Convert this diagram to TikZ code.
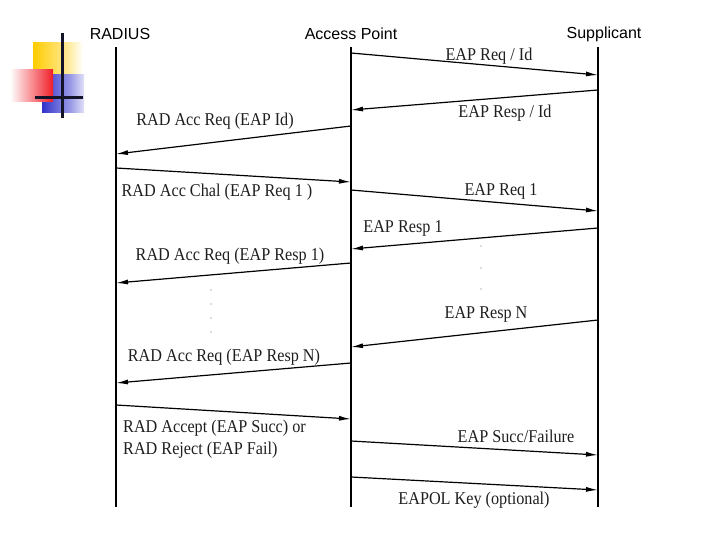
\documentclass[tikz,border=0pt]{standalone}
\usepackage{fontspec}
\setmainfont{Liberation Serif}
\newfontfamily\lblfont[FakeStretch=0.9]{Liberation Serif}
\newfontfamily\hdrfont{Liberation Sans}
\usetikzlibrary{arrows.meta}
\definecolor{logoyellow}{RGB}{255,204,0}
\definecolor{logoblue}{RGB}{51,51,204}
\definecolor{logored}{RGB}{240,30,40}
\definecolor{logoline}{RGB}{20,20,40}
\definecolor{txt}{RGB}{30,30,30}
\tikzset{
  hdr/.style={font=\hdrfont\fontsize{16}{18}\selectfont, inner sep=0pt, anchor=center},
  lbl/.style={font=\lblfont\fontsize{18}{22}\selectfont, text=txt, inner sep=0pt, anchor=center},
  life/.style={line width=2pt},
  msg/.style={line width=1.2pt, -{Latex[length=12pt,width=5pt]}},
  dotmark/.style={fill=black!60, circle, inner sep=0pt, minimum size=1.4pt}
}
\begin{document}
\begin{tikzpicture}[x=1pt,y=-1pt]
\useasboundingbox (0,0) rectangle (720,540);
% logo
\shade[left color=logoyellow, right color=logoyellow!40] (33,43) rectangle (68,75);
\shade[left color=logoyellow!40, right color=white] (68,43) rectangle (83,75);
\shade[left color=logoblue, right color=logoblue!50] (42,75) rectangle (70,113);
\shade[left color=logoblue!50, right color=logoblue!15] (70,75) rectangle (84,113);
\shade[left color=white, right color=logored] (10,70) rectangle (53,102);
\draw[logoline, line width=3pt] (62,33) -- (62,118);
\draw[logoline, line width=3pt] (35,98) -- (83,98);
% headers
\node[hdr] (hR) at (120,34) {RADIUS};
\node[hdr] (hA) at (351,34) {Access Point};
\node[hdr] (hS) at (604,34) {Supplicant};
% lifelines
\coordinate (Rt) at (116,47); \coordinate (Rb) at (116,507);
\coordinate (At) at (351,47); \coordinate (Ab) at (351,507);
\coordinate (St) at (598,47); \coordinate (Sb) at (598,507);
\draw[life] (Rt) -- (Rb);
\draw[life] (At) -- (Ab);
\draw[life] (St) -- (Sb);
% message endpoints
\coordinate (a1) at (351,53);  \coordinate (s1) at (598,75);
\coordinate (s2) at (598,90);  \coordinate (a2) at (351,110);
\coordinate (a3) at (351,126); \coordinate (r3) at (116,154);
\coordinate (r4) at (116,168); \coordinate (a4) at (351,182);
\coordinate (a5) at (351,190); \coordinate (s5) at (598,211);
\coordinate (s6) at (598,228); \coordinate (a6) at (351,249);
\coordinate (a7) at (351,263); \coordinate (r7) at (116,283);
\coordinate (s8) at (598,320); \coordinate (a8) at (351,347);
\coordinate (a9) at (351,363); \coordinate (r9) at (116,383);
\coordinate (r10) at (116,405); \coordinate (a10) at (351,419);
\coordinate (a11) at (351,441); \coordinate (s11) at (598,455);
\coordinate (a12) at (351,477); \coordinate (s12) at (598,490);
\draw[msg] (a1) -- (s1);
\draw[msg] (s2) -- (a2);
\draw[msg] (a3) -- (r3);
\draw[msg] (r4) -- (a4);
\draw[msg] (a5) -- (s5);
\draw[msg] (s6) -- (a6);
\draw[msg] (a7) -- (r7);
\draw[msg] (s8) -- (a8);
\draw[msg] (a9) -- (r9);
\draw[msg] (r10) -- (a10);
\draw[msg] (a11) -- (s11);
\draw[msg] (a12) -- (s12);
% labels
\node[lbl] (l1) at (489,56) {EAP Req / Id};
\node[lbl] (l2) at (505,113) {EAP Resp / Id};
\node[lbl] (l3) at (215,121) {RAD Acc Req (EAP Id)};
\node[lbl] (l4) at (217,192) {RAD Acc Chal (EAP Req 1 )};
\node[lbl] (l5) at (501,191) {EAP Req 1};
\node[lbl] (l6) at (403,228) {EAP Resp 1};
\node[lbl] (l7) at (230,256) {RAD Acc Req (EAP Resp 1)};
\node[lbl] (l8) at (486,314) {EAP Resp N};
\node[lbl] (l9) at (224,357) {RAD Acc Req (EAP Resp N)};
\node[lbl, anchor=west] (l10a) at (123,428) {RAD Accept (EAP Succ) or};
\node[lbl, anchor=west] (l10b) at (123,450) {RAD Reject (EAP Fail)};
\node[lbl] (l11) at (516,436) {EAP Succ/Failure};
\node[lbl] (l12) at (474,500) {EAPOL Key (optional)};
% continuation dots
\node[dotmark] (d1) at (211,290) {};
\node[dotmark] (d2) at (211,304) {};
\node[dotmark] (d3) at (211,318) {};
\node[dotmark] (d4) at (211,332) {};
\node[dotmark] (e1) at (481,246) {};
\node[dotmark] (e2) at (481,268) {};
\node[dotmark] (e3) at (481,289) {};
\end{tikzpicture}
\end{document}
